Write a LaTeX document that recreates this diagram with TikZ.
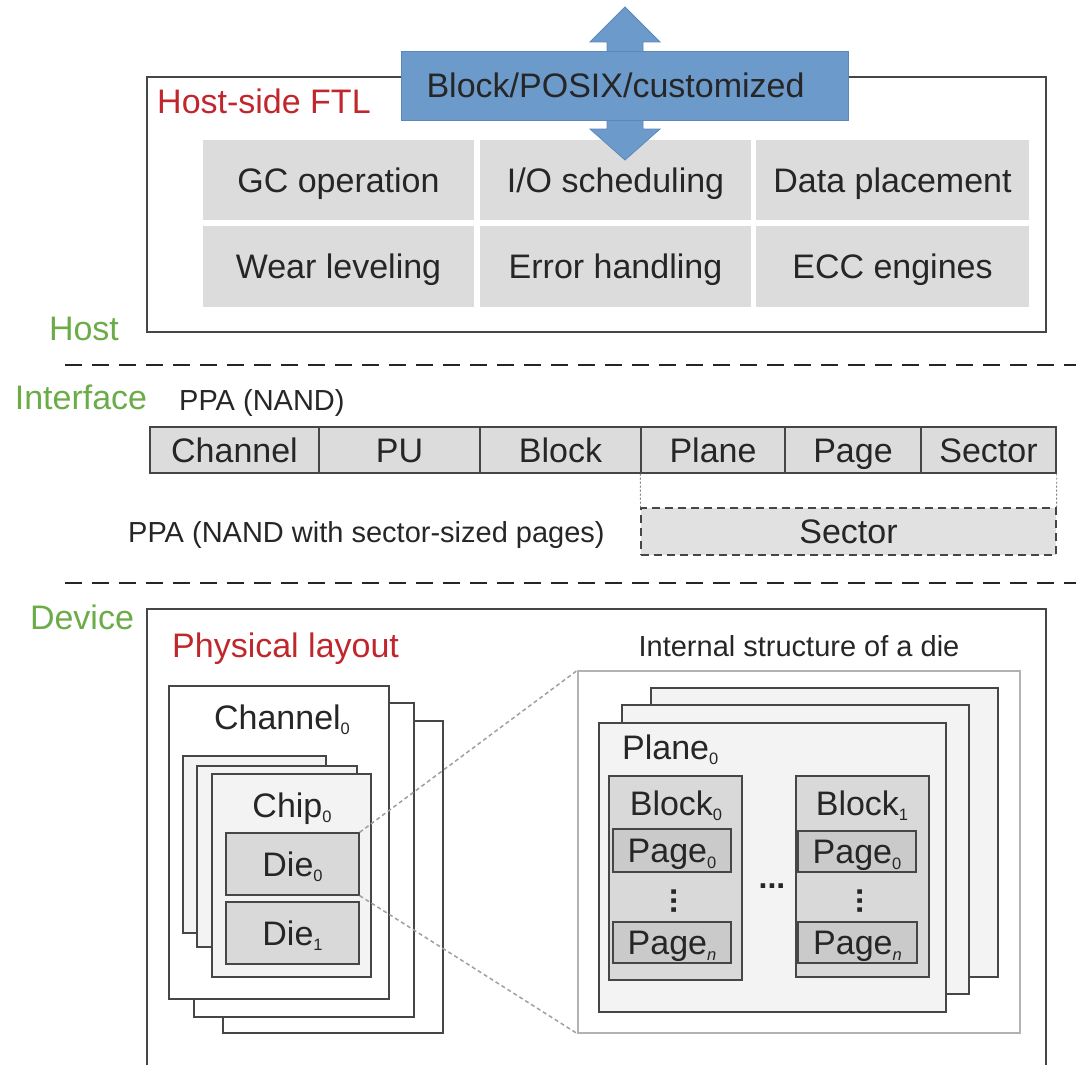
\documentclass[tikz,border=0pt]{standalone}
\usepackage{fontspec}
\setmainfont{Liberation Sans}
\usetikzlibrary{fit}
\definecolor{ftlred}{RGB}{192,39,45}
\definecolor{layergreen}{RGB}{108,172,72}
\definecolor{apiblue}{RGB}{108,154,203}
\definecolor{apiedge}{RGB}{90,136,188}
\definecolor{cellgray}{RGB}{220,220,220}
\definecolor{chipgray}{RGB}{243,243,243}
\definecolor{diegray}{RGB}{217,217,217}
\definecolor{pagegray}{RGB}{202,202,202}
\definecolor{edgegray}{RGB}{70,70,70}
\definecolor{linkgray}{RGB}{160,160,160}
\newcommand{\subidx}[1]{\raisebox{-0.3ex}{\fontsize{16.5}{17}\selectfont #1}}

\begin{document}
\begin{tikzpicture}[x=1pt,y=-1pt,font=\fontsize{34}{40}\selectfont]
\tikzset{box/.style = {draw=edgegray,line width=1.3pt,inner sep=0pt}}
\tikzset{cell/.style = {fill=cellgray,inner sep=0pt}}
\tikzset{lbl/.style = {inner sep=0pt,text=black!85,text height=24.4pt,text depth=0pt}}
\tikzset{small/.style = {font=\fontsize{29}{34}\selectfont,text height=21pt}}
\tikzset{layer/.style = {lbl,text=layergreen}}
\tikzset{title/.style = {lbl,text=ftlred}}
\tikzset{dots/.style = {inner sep=0pt,text=black!85,font=\fontsize{32}{38}\selectfont\bfseries}}
\tikzset{sep/.style = {line width=2.6pt,black!85,dash pattern=on 17pt off 10pt}}
\tikzset{link/.style = {linkgray,line width=1.5pt,dash pattern=on 4pt off 3pt}}
\tikzset{every label/.style = {lbl}}
\useasboundingbox (0,0) rectangle (1076,1065);
% host side
\node[box,fit={(147,77) (1046,332)}] (ftl) {};
\node[title,anchor=west] (ftlname) at (157,101) {Host-side FTL};
\node[cell,fit={(203,140) (474,220)},label=center:GC operation] (gc) {};
\node[cell,fit={(480,140) (751,220)},label=center:I/O scheduling] (ios) {};
\node[cell,fit={(756,140) (1029,220)},label=center:Data placement] (dp) {};
\node[cell,fit={(203,226) (474,307)},label=center:Wear leveling] (wl) {};
\node[cell,fit={(480,226) (751,307)},label=center:Error handling] (eh) {};
\node[cell,fit={(756,226) (1029,307)},label=center:ECC engines] (ecc) {};
\fill[apiblue,draw=apiedge,line width=0.8pt] (625,7) -- (660,42) -- (643,42) -- (643,129)
  -- (660,129) -- (625,160) -- (590,129) -- (607,129) -- (607,42) -- (590,42) -- cycle;
\node[fill=apiblue,draw=apiedge,line width=0.8pt,inner sep=0pt,fit={(401,51) (848,120)},
  label={[xshift=-9pt]center:Block/POSIX/customized}] (api) {};
\node[layer] (host) at (84,328) {Host};
\draw[sep] (65,365) -- (1076,365);
% interface
\node[layer] (iface) at (81,397) {Interface};
\node[lbl,small,anchor=west] (ppa) at (179,400) {PPA (NAND)};
\node[box,cell,fit={(150,427) (319,473)},label=center:Channel] (ch) {};
\node[box,cell,fit={(319,427) (480,473)},label=center:PU] (pu) {};
\node[box,cell,fit={(480,427) (641,473)},label=center:Block] (blk) {};
\node[box,cell,fit={(641,427) (785,473)},label=center:Plane] (pl) {};
\node[box,cell,fit={(785,427) (921,473)},label=center:Page] (pg) {};
\node[box,cell,fit={(921,427) (1056,473)},label=center:Sector] (sc) {};
\node[lbl,small,anchor=west] (ppas) at (128,532) {PPA (NAND with sector-sized pages)};
\node[box,cell,line width=1.2pt,dash pattern=on 8pt off 5pt,fill=cellgray!85,
  fit={(641,508) (1056,555)},label=center:Sector] (sc2) {};
\draw[linkgray!80!black,line width=0.8pt,dash pattern=on 2pt off 2pt] (pl.south west) -- (sc2.north west);
\draw[linkgray!80!black,line width=0.8pt,dash pattern=on 2pt off 2pt] (sc.south east) -- (sc2.north east);
\draw[sep] (65,583) -- (1076,583);
% device
\node[layer] (device) at (82,617) {Device};
\draw[box] (147,1066) -- (147,609) -- (1046,609) -- (1046,1066);
\node[title,anchor=west] (phys) at (172,645) {Physical layout};
\node[box,fill=white,fit={(223,721) (443,1033)}] (chc) {};
\node[box,fill=white,fit={(194,703) (414,1017)}] (chb) {};
\node[box,fill=white,fit={(169,686) (389,999)}] (cha) {};
\node[lbl] (chname) at (282,717) {Channel\subidx{0}};
\node[box,fill=chipgray,fit={(183,756) (326,933)}] (chipc) {};
\node[box,fill=chipgray,fit={(197,766) (357,947)}] (chipb) {};
\node[box,fill=chipgray,fit={(212,774) (371,977)}] (chipa) {};
\node[lbl] (chipname) at (292,805) {Chip\subidx{0}};
\node[box,fill=diegray,fit={(226,833) (359,895)},label={center:Die\subidx{0}}] (die0) {};
\node[box,fill=diegray,fit={(226,902) (359,964)},label={center:Die\subidx{1}}] (die1) {};
% internal structure of a die
\node[lbl,small] (insname) at (799,646) {Internal structure of a die};
\node[draw=black!30,line width=1.3pt,inner sep=0pt,fill=white,fit={(578,671) (1020,1033)}] (ins) {};
\node[box,fill=chipgray,fit={(651,688) (998,977)}] (plc) {};
\node[box,fill=chipgray,fit={(622,705) (969,994)}] (plb) {};
\node[box,fill=chipgray,fit={(599,723) (946,1012)}] (pla) {};
\node[lbl,anchor=west] (plname) at (622,747) {Plane\subidx{0}};
\node[box,fill=diegray,fit={(609,776) (742,980)}] (blk0) {};
\node[box,fill=diegray,fit={(796,776) (929,977)}] (blk1) {};
\node[lbl] (blk0name) at (676,803) {Block\subidx{0}};
\node[lbl] (blk1name) at (862,803) {Block\subidx{1}};
\node[box,fill=pagegray,fit={(613,829) (731,872)},label={center:Page\subidx{0}}] (pg00) {};
\node[box,fill=pagegray,fit={(613,922) (731,963)},label={center:Page\subidx{\itshape n}}] (pg0n) {};
\node[box,fill=pagegray,fit={(798,831) (916,872)},label={center:Page\subidx{0}}] (pg10) {};
\node[box,fill=pagegray,fit={(798,922) (917,963)},label={center:Page\subidx{\itshape n}}] (pg1n) {};
\node[dots,rotate=90] (vd0) at (674,901) {...};
\node[dots,rotate=90] (vd1) at (860,901) {...};
\node[dots] (hd) at (772,886) {...};
% zoom lines
\draw[link] (die0.north east) -- (ins.north west);
\draw[link] (die0.south east) -- (ins.south west);
\end{tikzpicture}
\end{document}
